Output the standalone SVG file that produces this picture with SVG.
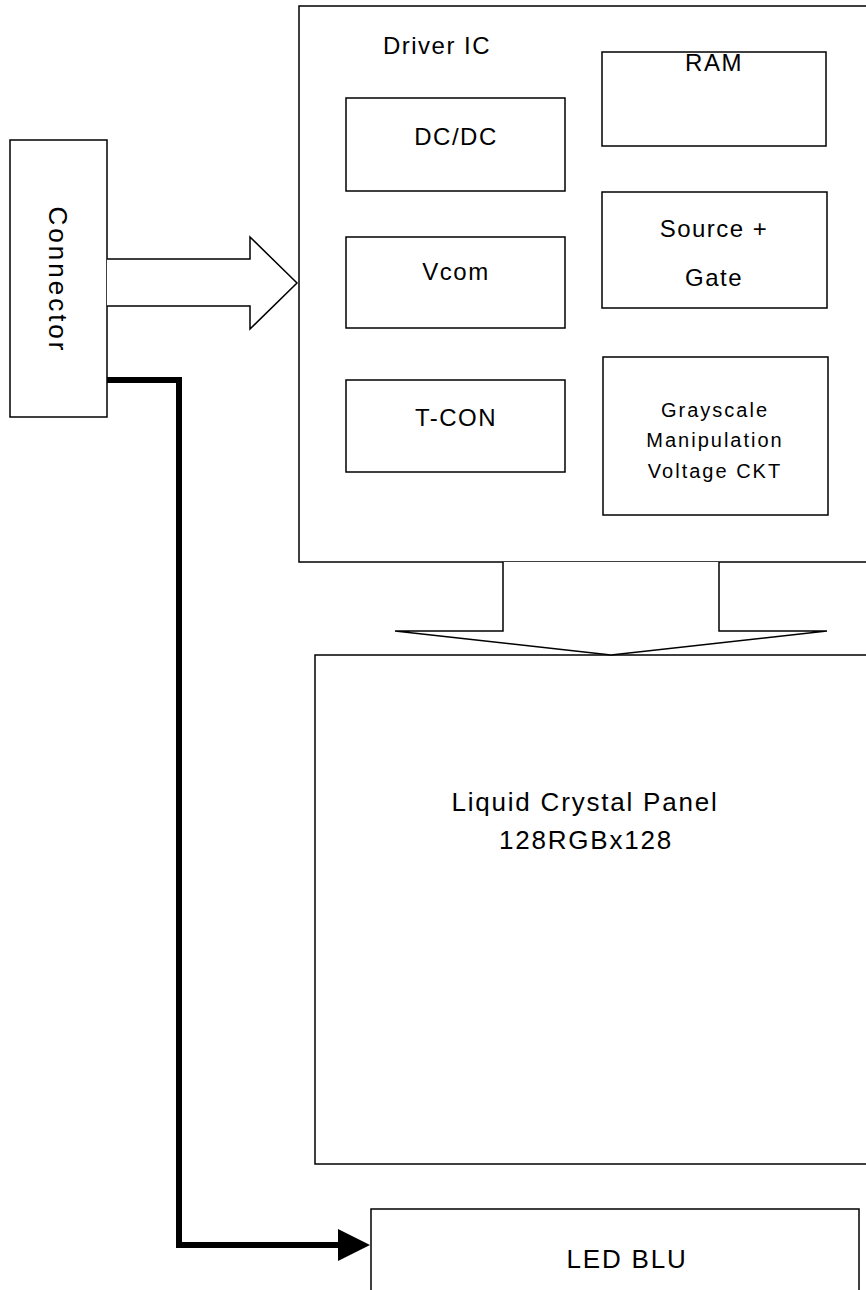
<svg xmlns="http://www.w3.org/2000/svg" width="866" height="1290" viewBox="0 0 866 1290">
<defs>
<style>
.box{fill:#fff;stroke:#000;stroke-width:1.5}
.t{font-family:"Liberation Sans",Arial,sans-serif;font-size:24px;fill:#000;text-anchor:middle;letter-spacing:1.5px}
.b{font-size:26px;letter-spacing:1.8px}
.s{font-family:"Liberation Sans",Arial,sans-serif;font-size:20px;fill:#000;text-anchor:middle;letter-spacing:2px}
.ol{fill:#fff;stroke:#000;stroke-width:1.5;stroke-linejoin:miter}
.thick{fill:none;stroke:#000;stroke-width:6;stroke-linejoin:miter}
</style>
</defs>
<rect width="866" height="1290" fill="#fff"/>
<g id="driver-ic">
<rect class="box" x="299" y="6" width="580" height="556"/>
<text class="t" x="437" y="54">Driver IC</text>
</g>
<g id="ram"><rect class="box" x="602" y="52" width="224" height="94"/><text class="t" x="714" y="71">RAM</text></g>
<g id="dcdc"><rect class="box" x="346" y="98" width="219" height="93"/><text class="t" x="456" y="145">DC/DC</text></g>
<g id="source-gate"><rect class="box" x="602" y="192" width="225" height="116"/><text class="t" x="714" y="237">Source +</text><text class="t" x="714" y="286">Gate</text></g>
<g id="vcom"><rect class="box" x="346" y="237" width="219" height="91"/><text class="t" x="456" y="280">Vcom</text></g>
<g id="tcon"><rect class="box" x="346" y="380" width="219" height="92"/><text class="t" x="456" y="426">T-CON</text></g>
<g id="grayscale"><rect class="box" x="603" y="357" width="225" height="158"/><text class="s" x="715" y="417">Grayscale</text><text class="s" x="715" y="447">Manipulation</text><text class="s" x="715" y="478">Voltage CKT</text></g>
<g id="connector"><rect class="box" x="10" y="140" width="97" height="277"/><text class="t b" transform="translate(49,280) rotate(90)" x="0" y="0" style="letter-spacing:3px">Connector</text></g>
<g id="panel"><rect class="box" x="315" y="655" width="580" height="509"/><text class="t b" x="585" y="811">Liquid Crystal Panel</text><text class="t b" x="586" y="849">128RGBx128</text></g>
<g id="led-blu"><rect class="box" x="371" y="1209" width="488" height="100"/><text class="t b" x="627" y="1268">LED BLU</text></g>
<g id="connectors">
<path class="ol" d="M107,259 L250,259 L250,237 L297,283 L250,329 L250,306 L107,306"/>
<path class="ol" d="M503,562 L503,631 L395,631 L611,655 L827,631 L719,631 L719,562"/>
<path class="thick" d="M107,380 L179,380 L179,1245 L338,1245"/>
<polygon points="338,1229 370,1245 338,1261" fill="#000"/>
</g>
</svg>
